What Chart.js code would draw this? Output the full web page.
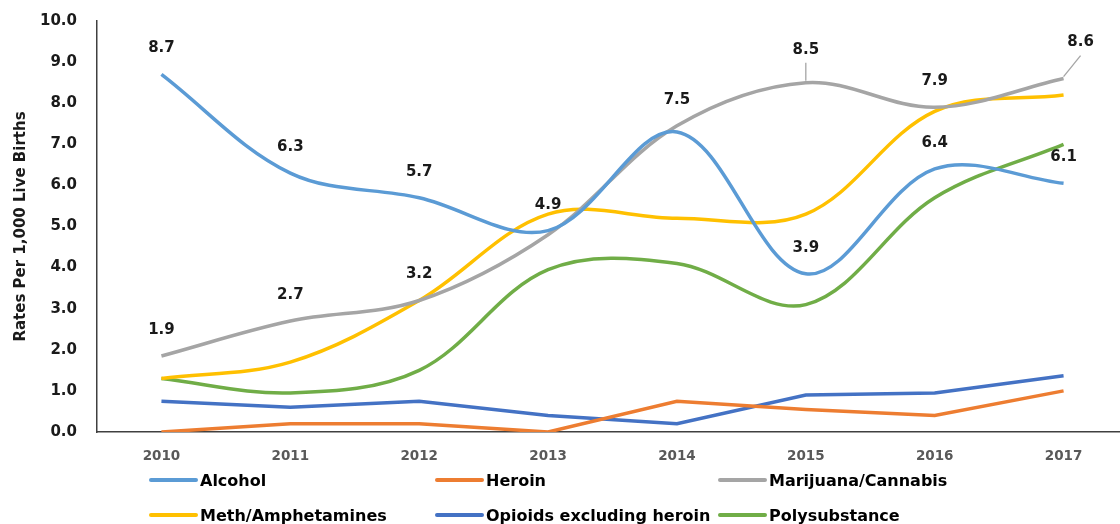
<!DOCTYPE html>
<html>
<head>
<meta charset="utf-8">
<script src="https://cdn.jsdelivr.net/npm/chart.js@4/dist/chart.umd.min.js"></script>
<style>
  html, body { margin: 0; padding: 0; background: #fff; overflow: hidden; width: 1120px; height: 524px; position: relative; }
  #wrap { position: absolute; left: 0; top: -8px; width: 1128px; height: 532px; }
  #legend { position: absolute; left: 0; top: 0; width: 1120px; height: 524px; pointer-events: none;
            font-family: "DejaVu Sans", sans-serif; font-weight: bold; font-size: 16px; color: #000; }
  .item { position: absolute; display: flex; align-items: center; white-space: nowrap; }
  .swatch { width: 49px; height: 4px; border-radius: 2px; margin-right: 2px; }
</style>
</head>
<body>
<div id="wrap"><canvas id="c" width="1128" height="532"></canvas></div>
<div id="legend"></div>
<script>
const years = ["2010","2011","2012","2013","2014","2015","2016","2017"];
const yTicks = [0,1,2,3,4,5,6,7,8,9,10];

const alcohol      = [8.7, 6.3, 5.7, 4.9, 7.3, 3.85, 6.4, 6.05];
const heroin       = [0.0, 0.2, 0.2, 0.0, 0.75, 0.55, 0.4, 1.0];
const marijuana    = [1.85, 2.7, 3.2, 4.8, 7.45, 8.5, 7.9, 8.6];
const meth         = [1.3, 1.7, 3.2, 5.3, 5.2, 5.3, 7.8, 8.2];
const opioids      = [0.75, 0.6, 0.75, 0.4, 0.2, 0.9, 0.95, 1.37];
const poly         = [1.3, 0.95, 1.5, 3.95, 4.1, 3.1, 5.7, 7.0];

const alcoholLabels   = ["8.7","6.3","5.7","4.9",null,"3.9","6.4","6.1"];
const marijuanaLabels = ["1.9","2.7","3.2",null,"7.5","8.5","7.9","8.6"];

const seriesNames = ["Alcohol","Heroin","Marijuana/Cannabis","Meth/Amphetamines","Opioids excluding heroin","Polysubstance"];
const colors = ["#5B9BD5","#ED7D31","#A5A5A5","#FFC000","#4472C4","#70AD47"];

const FONT = '"DejaVu Sans", sans-serif';

const mk = (i, data, tension, labels) => ({
  label: seriesNames[i], data, borderColor: colors[i], backgroundColor: colors[i],
  borderWidth: 3.5, pointRadius: 0, tension, fill: false, labelsText: labels || null
});

const datasets = [
  mk(0, alcohol, 0.35, alcoholLabels),
  mk(1, heroin, 0),
  mk(2, marijuana, 0.35, marijuanaLabels),
  mk(3, meth, 0.35),
  mk(4, opioids, 0),
  mk(5, poly, 0.35)
];

// label offsets (style): default lift, and leader lines for some points
const labelStyle = {
  dy: -26,
  special: { "2-5": {dx: 0, dy: -33, leader: true}, "2-7": {dx: 17, dy: -36, leader: true} }
};

const dataLabels = {
  id: 'dataLabels',
  afterDatasetsDraw(chart) {
    const ctx = chart.ctx;
    ctx.save();
    ctx.font = 'bold 15px ' + FONT;
    ctx.fillStyle = '#1a1a1a';
    ctx.textAlign = 'center';
    ctx.textBaseline = 'middle';
    chart.data.datasets.forEach((ds, di) => {
      if (!ds.labelsText) return;
      const meta = chart.getDatasetMeta(di);
      ds.labelsText.forEach((t, i) => {
        if (t == null) return;
        const p = meta.data[i];
        const sp = labelStyle.special[di + '-' + i];
        const dx = sp ? sp.dx : 0, dy = sp ? sp.dy : labelStyle.dy;
        const lx = p.x + dx, ly = p.y + dy;
        if (sp && sp.leader) {
          ctx.strokeStyle = '#A5A5A5';
          ctx.lineWidth = 1.3;
          ctx.beginPath();
          ctx.moveTo(p.x, p.y - 2);
          ctx.lineTo(lx, ly + 13);
          ctx.stroke();
        }
        ctx.fillText(t, lx, ly);
      });
    });
    ctx.restore();
  }
};

new Chart(document.getElementById('c'), {
  type: 'line',
  data: { labels: years, datasets },
  plugins: [dataLabels],
  options: {
    responsive: false,
    animation: false,
    layout: { padding: { top: 2, left: 0, right: 0, bottom: 0 } },
    plugins: { legend: { display: false }, tooltip: { enabled: false } },
    scales: {
      x: {
        type: 'category',
        offset: true,
        grid: { display: false, drawTicks: false },
        border: { display: true, color: '#404040', width: 1.5 },
        ticks: { color: '#595959', padding: 16, font: { family: FONT, size: 13.5, weight: 'bold' }, maxRotation: 0 },
        afterFit(s) { s.height = 92; }
      },
      y: {
        min: 0, max: 10,
        afterBuildTicks(s) { s.ticks = yTicks.map(v => ({ value: v })); },
        grid: { display: false, drawTicks: false },
        border: { display: true, color: '#404040', width: 1.5 },
        ticks: { color: '#1a1a1a', padding: 20, font: { family: FONT, size: 15, weight: 'bold' },
                 callback: v => Number(v).toFixed(1) },
        title: { display: true, text: 'Rates Per 1,000 Live Births', color: '#1a1a1a',
                 font: { family: FONT, size: 15, weight: 'bold' }, padding: { top: 12, bottom: 0 } },
        afterFit(s) { s.width = 97; }
      }
    }
  }
});

// HTML legend built from datasets
const legendPos = [[149,480],[435,480],[718,480],[149,515],[435,515],[718,515]];
const lg = document.getElementById('legend');
seriesNames.forEach((n, i) => {
  const d = document.createElement('div');
  d.className = 'item';
  d.style.left = legendPos[i][0] + 'px';
  d.style.top = (legendPos[i][1] - 10) + 'px';
  d.style.height = '20px';
  d.innerHTML = '<span class="swatch" style="background:' + colors[i] + '"></span><span>' + n + '</span>';
  lg.appendChild(d);
});
</script>
</body>
</html>
